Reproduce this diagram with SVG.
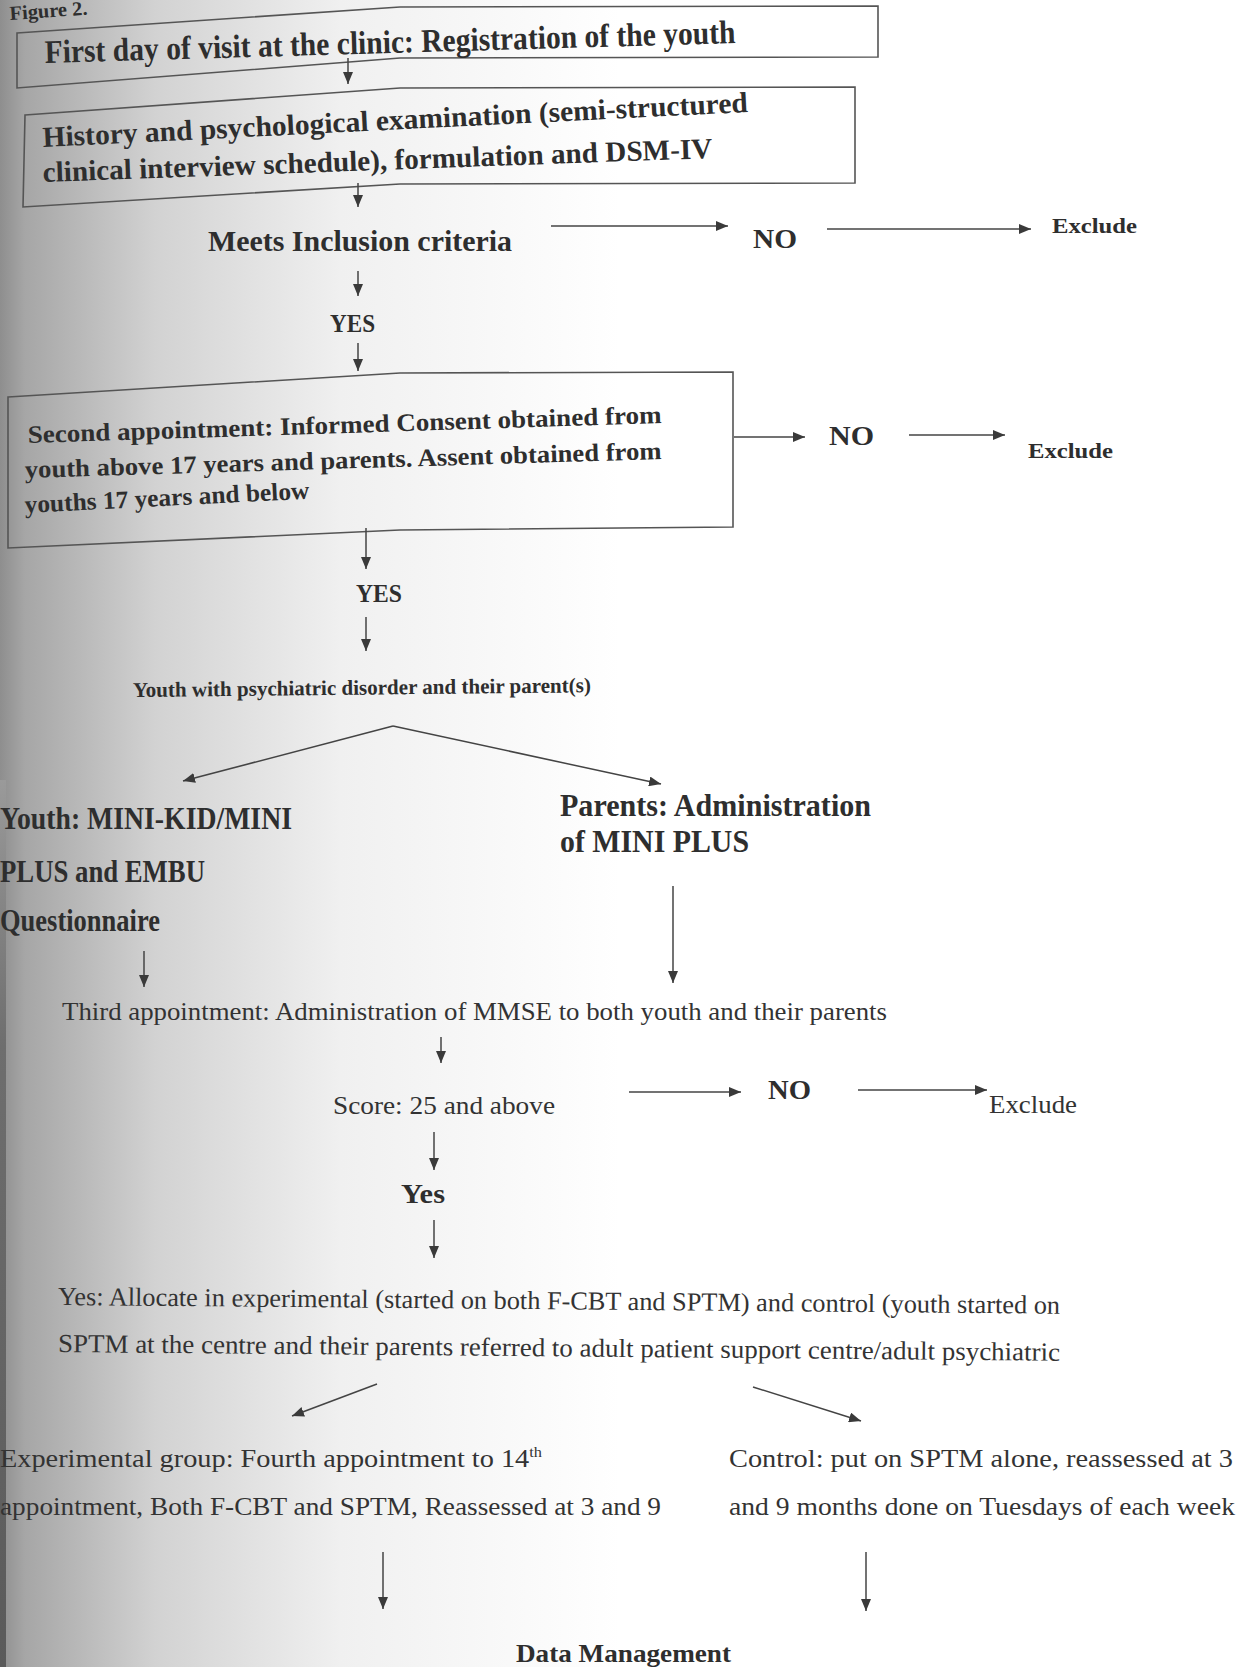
<svg xmlns="http://www.w3.org/2000/svg" width="1247" height="1667" viewBox="0 0 1247 1667">
<defs>
<linearGradient id="shade" x1="0" y1="0" x2="1" y2="0">
<stop offset="0" stop-color="#8e8e8e"/>
<stop offset="0.04" stop-color="#a6a6a6"/>
<stop offset="0.25" stop-color="#d2d2d2"/>
<stop offset="0.55" stop-color="#f0f0f0"/>
<stop offset="1" stop-color="#ffffff"/>
</linearGradient>
<linearGradient id="edge" x1="0" y1="0" x2="0" y2="1">
<stop offset="0" stop-color="#9a9a9a"/>
<stop offset="0.3" stop-color="#6e6e6e"/>
<stop offset="1" stop-color="#5a5a5a"/>
</linearGradient>
<marker id="ah" viewBox="0 0 12 10" refX="12" refY="5" markerWidth="12" markerHeight="10" markerUnits="userSpaceOnUse" orient="auto">
<path d="M0,0 L12,5 L0,10 z" fill="#3a3a3a"/>
</marker>
</defs>
<style>
.b{font-family:"Liberation Serif","Times New Roman",serif;font-weight:bold;fill:#2e2e2e}
.r{font-family:"Liberation Serif","Times New Roman",serif;fill:#333}
.box{fill:none;stroke:#555;stroke-width:1.6}
.c{fill:none;stroke:#444;stroke-width:1.5;marker-end:url(#ah)}
</style>
<rect width="1247" height="1667" fill="#fff"/>
<rect width="620" height="1667" fill="url(#shade)"/>
<rect x="0" y="780" width="6" height="887" fill="url(#edge)"/>

<text class="b" x="10" y="20" font-size="20" textLength="78" lengthAdjust="spacingAndGlyphs" transform="rotate(-4 10 20)">Figure 2.</text>

<g id="n1">
<path class="box" d="M17,33 L400,7 L878,6 L878,57 L400,58 L17,88 Z"/>
<text class="b" x="45" y="63" font-size="33" textLength="691" lengthAdjust="spacingAndGlyphs" transform="rotate(-1.66 45 63)">First day of visit at the clinic: Registration of the youth</text>
</g>

<g id="n2">
<path class="box" d="M25,115 L400,88 L855,87 L855,183 L400,184 L23,207 Z"/>
<text class="b" x="43" y="147" font-size="29" textLength="706" lengthAdjust="spacingAndGlyphs" transform="rotate(-2.84 43 147)">History and psychological examination (semi-structured</text>
<text class="b" x="43" y="182" font-size="29" textLength="670" lengthAdjust="spacingAndGlyphs" transform="rotate(-2.05 43 182)">clinical interview schedule), formulation and DSM-IV</text>
</g>

<g id="n3">
<text class="b" x="208" y="251" font-size="30" textLength="304" lengthAdjust="spacingAndGlyphs">Meets Inclusion criteria</text>
</g>
<g id="n4"><text class="b" x="753" y="248" font-size="27" textLength="44" lengthAdjust="spacingAndGlyphs">NO</text></g>
<g id="n5"><text class="b" x="1052" y="233" font-size="22" textLength="85" lengthAdjust="spacingAndGlyphs">Exclude</text></g>
<g id="n6"><text class="b" x="330" y="332" font-size="25" textLength="45" lengthAdjust="spacingAndGlyphs">YES</text></g>

<g id="n7">
<path class="box" d="M8,397 L400,373 L733,372 L733,527 L400,530 L8,548 Z"/>
<text class="b" x="28" y="443" font-size="25" textLength="634" lengthAdjust="spacingAndGlyphs" transform="rotate(-1.81 28 443)">Second appointment:  Informed Consent obtained from</text>
<text class="b" x="25" y="478" font-size="25" textLength="637" lengthAdjust="spacingAndGlyphs" transform="rotate(-1.71 25 478)">youth above 17 years and parents. Assent obtained from</text>
<text class="b" x="25" y="513" font-size="25" textLength="285" lengthAdjust="spacingAndGlyphs" transform="rotate(-2.9 25 513)">youths 17 years and below</text>
</g>
<g id="n8"><text class="b" x="829" y="445" font-size="27" textLength="45" lengthAdjust="spacingAndGlyphs">NO</text></g>
<g id="n9"><text class="b" x="1028" y="458" font-size="22" textLength="85" lengthAdjust="spacingAndGlyphs">Exclude</text></g>
<g id="n10"><text class="b" x="356" y="602" font-size="25" textLength="46" lengthAdjust="spacingAndGlyphs">YES</text></g>
<g id="n11"><text class="b" x="133" y="697" font-size="21" textLength="458" lengthAdjust="spacingAndGlyphs" transform="rotate(-0.6 133 697)">Youth with psychiatric disorder and their parent(s)</text></g>

<g id="n12">
<text class="b" x="0" y="829" font-size="31" textLength="292" lengthAdjust="spacingAndGlyphs">Youth: MINI-KID/MINI</text>
<text class="b" x="0" y="882" font-size="31" textLength="205" lengthAdjust="spacingAndGlyphs">PLUS and EMBU</text>
<text class="b" x="0" y="931" font-size="31" textLength="160" lengthAdjust="spacingAndGlyphs">Questionnaire</text>
</g>
<g id="n13">
<text class="b" x="560" y="816" font-size="31" textLength="311" lengthAdjust="spacingAndGlyphs">Parents: Administration</text>
<text class="b" x="560" y="852" font-size="31" textLength="189" lengthAdjust="spacingAndGlyphs">of MINI PLUS</text>
</g>
<g id="n14"><text class="r" x="62" y="1020" font-size="26" textLength="825" lengthAdjust="spacingAndGlyphs">Third appointment: Administration of MMSE to both youth and their parents</text></g>
<g id="n15"><text class="r" x="333" y="1114" font-size="26" textLength="222" lengthAdjust="spacingAndGlyphs">Score: 25 and above</text></g>
<g id="n16"><text class="b" x="768" y="1099" font-size="27" textLength="43" lengthAdjust="spacingAndGlyphs">NO</text></g>
<g id="n17"><text class="r" x="989" y="1113" font-size="26" textLength="88" lengthAdjust="spacingAndGlyphs">Exclude</text></g>
<g id="n18"><text class="b" x="401" y="1203" font-size="27" textLength="44" lengthAdjust="spacingAndGlyphs">Yes</text></g>
<g id="n19">
<text class="r" x="58" y="1305" font-size="26" textLength="1002" lengthAdjust="spacingAndGlyphs" transform="rotate(0.5 58 1305)">Yes: Allocate in experimental (started on both F-CBT and SPTM) and control (youth started on</text>
<text class="r" x="58" y="1352" font-size="26" textLength="1002" lengthAdjust="spacingAndGlyphs" transform="rotate(0.5 58 1352)">SPTM at the centre and their parents referred to adult patient support centre/adult psychiatric</text>
</g>
<g id="n20">
<text class="r" x="0" y="1467" font-size="26" textLength="542" lengthAdjust="spacingAndGlyphs">Experimental group: Fourth appointment to 14<tspan font-size="15" dy="-10">th</tspan></text>
<text class="r" x="0" y="1515" font-size="26" textLength="661" lengthAdjust="spacingAndGlyphs">appointment, Both F-CBT and SPTM, Reassessed at 3 and 9</text>
</g>
<g id="n21">
<text class="r" x="729" y="1467" font-size="26" textLength="504" lengthAdjust="spacingAndGlyphs">Control: put on SPTM alone, reassessed at 3</text>
<text class="r" x="729" y="1515" font-size="26" textLength="506" lengthAdjust="spacingAndGlyphs">and 9 months done on Tuesdays of each week</text>
</g>
<g id="n22"><text class="b" x="516" y="1662" font-size="26" textLength="215" lengthAdjust="spacingAndGlyphs">Data Management</text></g>

<g id="connectors">
<line class="c" x1="348" y1="58" x2="348" y2="84"/>
<line class="c" x1="358" y1="183" x2="358" y2="207"/>
<line class="c" x1="551" y1="226" x2="728" y2="226"/>
<line class="c" x1="827" y1="229" x2="1031" y2="229"/>
<line class="c" x1="358" y1="271" x2="358" y2="296"/>
<line class="c" x1="358" y1="343" x2="358" y2="371"/>
<line class="c" x1="734" y1="437" x2="805" y2="437"/>
<line class="c" x1="909" y1="435" x2="1005" y2="435"/>
<line class="c" x1="366" y1="528" x2="366" y2="569"/>
<line class="c" x1="366" y1="617" x2="366" y2="651"/>
<path class="c" d="M393,726 L183,781"/>
<path class="c" d="M393,726 L661,784"/>
<line class="c" x1="144" y1="951" x2="144" y2="987"/>
<line class="c" x1="673" y1="886" x2="673" y2="983"/>
<line class="c" x1="441" y1="1037" x2="441" y2="1063"/>
<line class="c" x1="629" y1="1092" x2="741" y2="1092"/>
<line class="c" x1="858" y1="1090" x2="987" y2="1090"/>
<line class="c" x1="434" y1="1132" x2="434" y2="1170"/>
<line class="c" x1="434" y1="1220" x2="434" y2="1258"/>
<line class="c" x1="377" y1="1384" x2="292" y2="1416"/>
<line class="c" x1="753" y1="1387" x2="861" y2="1421"/>
<line class="c" x1="383" y1="1552" x2="383" y2="1609"/>
<line class="c" x1="866" y1="1552" x2="866" y2="1611"/>
</g>
</svg>
